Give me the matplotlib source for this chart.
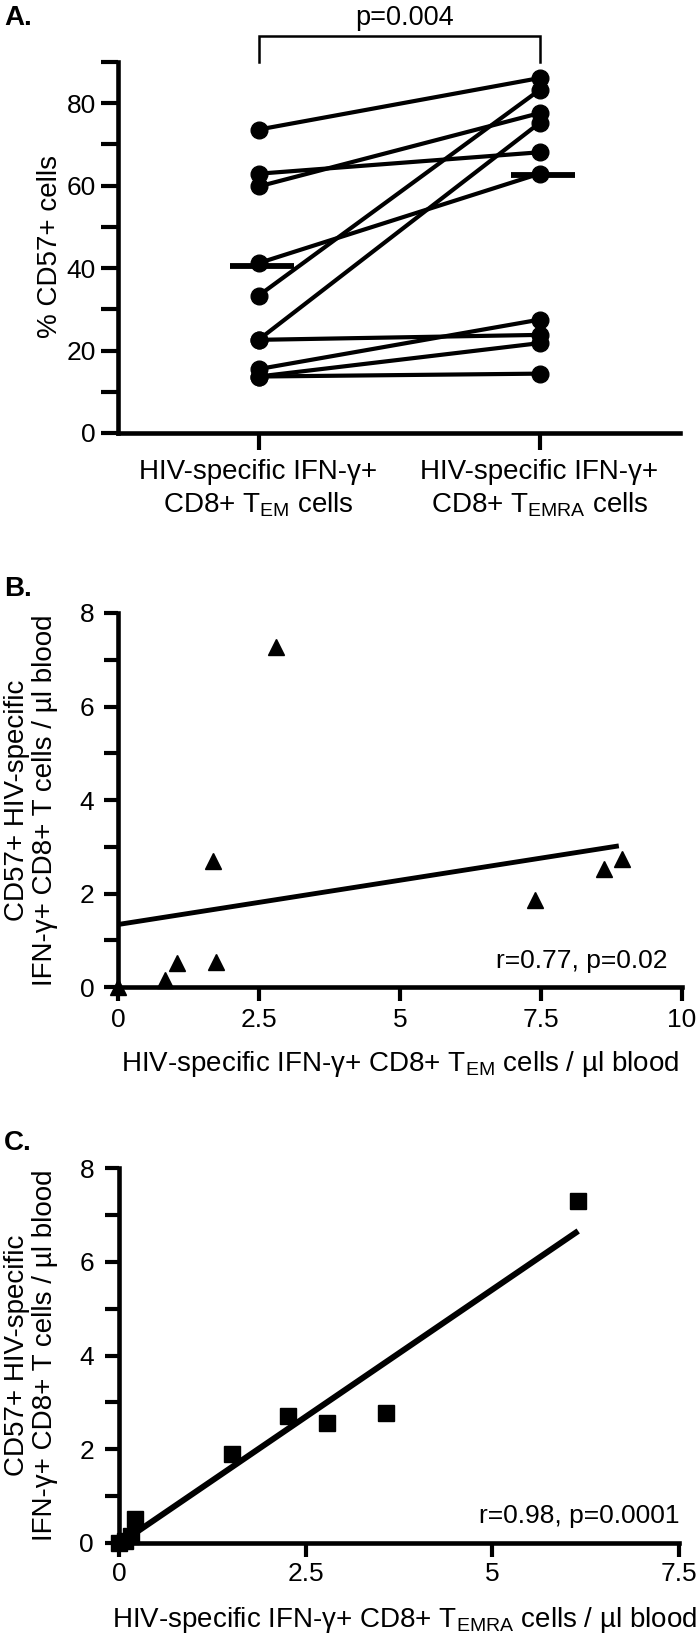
import numpy as np
import matplotlib
matplotlib.use('Agg')
import matplotlib.pyplot as plt
from matplotlib.ticker import FixedLocator

plt.rcParams['font.family'] = ['Liberation Sans', 'DejaVu Sans']
plt.rcParams['mathtext.fontset'] = 'custom'
plt.rcParams['mathtext.rm'] = 'Liberation Sans'
plt.rcParams['mathtext.it'] = 'Liberation Sans:italic'
plt.rcParams['mathtext.bf'] = 'Liberation Sans:bold'

# ---------------- data ----------------
# Panel A: paired % CD57+ (TEM vs TEMRA)
group_labels = ["HIV-specific IFN-γ+\nCD8+ T$_{\\mathrm{EM}}$ cells",
                "HIV-specific IFN-γ+\nCD8+ T$_{\\mathrm{EMRA}}$ cells"]
tem_pct = [73.6, 62.9, 59.8, 41.2, 33.3, 22.6, 22.6, 15.5, 13.7, 13.7]
temra_pct = [86.1, 68.1, 77.6, 62.9, 83.2, 75.2, 23.8, 27.5, 21.8, 14.4]
group_bars = [40.5, 62.5]
a_yticks = [0, 20, 40, 60, 80]
a_ylabel = "% CD57+ cells"
a_ptext = "p=0.004"

# Panel B: TEM counts vs CD57+ counts
b_x = [0.0, 0.84, 1.05, 1.73, 1.68, 2.81, 7.40, 8.61, 8.93]
b_y = [0.0, 0.14, 0.51, 0.53, 2.69, 7.28, 1.87, 2.53, 2.74]
b_xticks = [0, 2.5, 5, 7.5, 10]
b_xticklabels = ["0", "2.5", "5", "7.5", "10"]
b_xlabel = "HIV-specific IFN-γ+ CD8+ T$_{\\mathrm{EM}}$ cells / µl blood"
b_stat = "r=0.77, p=0.02"

# Panel C: TEMRA counts vs CD57+ counts
c_x = [0.0, 0.08, 0.16, 0.21, 1.51, 2.27, 2.78, 3.57, 6.15]
c_y = [0.0, 0.05, 0.14, 0.52, 1.90, 2.72, 2.56, 2.77, 7.30]
c_xticks = [0, 2.5, 5, 7.5]
c_xticklabels = ["0", "2.5", "5", "7.5"]
c_xlabel = "HIV-specific IFN-γ+ CD8+ T$_{\\mathrm{EMRA}}$ cells / µl blood"
c_stat = "r=0.98, p=0.0001"

bc_yticks = [0, 2, 4, 6, 8]
bc_ylabel = "CD57+ HIV-specific\nIFN-γ+ CD8+ T cells / µl blood"

# ---------------- figure ----------------
W, H = 700, 1639
fig = plt.figure(figsize=(W / 100, H / 100), dpi=100)


def px_axes(l, r, b, t):
    return fig.add_axes([l / W, 1 - b / H, (r - l) / W, (b - t) / H])


def style(ax, tick_len, ypad, xpad):
    for s in ['top', 'right']:
        ax.spines[s].set_visible(False)
    for s in ['left', 'bottom']:
        ax.spines[s].set_linewidth(3.3)
        ax.spines[s].set_capstyle('projecting')
    ax.tick_params(axis='both', which='both', direction='out', length=tick_len,
                   width=3.0, color='black', labelsize=19)
    ax.tick_params(axis='y', which='both', pad=ypad)
    ax.tick_params(axis='x', which='both', pad=xpad)


TXT = 20

# ---- Panel A ----
axA = px_axes(118, 680, 433, 62)
for a, b in zip(tem_pct, temra_pct):
    axA.plot([1, 2], [a, b], color='black', lw=3.0, marker='o', ms=12,
             solid_capstyle='round', clip_on=False, zorder=3)
for xi, v in zip([1, 2], group_bars):
    axA.plot([xi - 0.1, xi + 0.125], [v, v], color='black', lw=4.2,
             solid_capstyle='butt', zorder=4)
axA.set_xlim(0.5, 2.5)
axA.set_ylim(0, 90)
axA.set_xticks([1, 2])
axA.set_xticklabels(group_labels, fontsize=TXT, linespacing=1.25)
axA.set_yticks(a_yticks)
axA.yaxis.set_minor_locator(FixedLocator([10, 30, 50, 70, 90]))
style(axA, 12, 4, 7)
axA.tick_params(axis='x', labelsize=TXT)
# significance bracket
axA.plot([1, 1, 2, 2], [90.1, 96.2, 96.2, 90.1], color='black', lw=1.8,
         clip_on=False, solid_joinstyle='miter')
axA.text(1.52, 99.0, a_ptext, ha='center', va='baseline', fontsize=19.5,
         clip_on=False)
fig.text(50 / W, 1 - 247 / H, a_ylabel, rotation=90, ha='center', va='center',
         fontsize=TXT)
fig.text(4 / W, 1 - 25 / H, "A.", fontsize=20, fontweight='bold', va='baseline')

# ---- Panel B ----
axB = px_axes(118, 682, 987, 613)
axB.plot(b_x, b_y, linestyle='none', marker='^', ms=11.5, color='black',
         clip_on=False, zorder=3)
kb = np.polyfit(b_x, b_y, 1)
xb = np.array([0, max(b_x) - 0.05])
axB.plot(xb, np.polyval(kb, xb), color='black', lw=3.5, solid_capstyle='butt')
axB.set_xlim(0, 10)
axB.set_ylim(0, 8)
axB.set_xticks(b_xticks)
axB.set_xticklabels(b_xticklabels)
axB.set_yticks(bc_yticks)
axB.yaxis.set_minor_locator(FixedLocator([1, 3, 5, 7]))
style(axB, 10, 7, 5)
axB.text(9.75, 0.41, b_stat, ha='right', va='baseline', fontsize=19)
fig.text(400 / W, 1 - 1071 / H, b_xlabel, ha='center', va='baseline', fontsize=TXT)
fig.text(31 / W, 1 - 800 / H, bc_ylabel, rotation=90, ha='center', va='center',
         multialignment='center', fontsize=TXT, linespacing=1.12)
fig.text(4 / W, 1 - 596 / H, "B.", fontsize=20, fontweight='bold', va='baseline')

# ---- Panel C ----
axC = px_axes(119, 679, 1543, 1168)
axC.plot(c_x, c_y, linestyle='none', marker='s', ms=11, color='black',
         clip_on=False, zorder=3)
kc = np.polyfit(c_x, c_y, 1)
xc = np.array([0, max(c_x)])
axC.plot(xc, np.polyval(kc, xc), color='black', lw=4.3, solid_capstyle='butt')
axC.set_xlim(0, 7.5)
axC.set_ylim(0, 8)
axC.set_xticks(c_xticks)
axC.set_xticklabels(c_xticklabels)
axC.set_yticks(bc_yticks)
axC.yaxis.set_minor_locator(FixedLocator([1, 3, 5, 7]))
style(axC, 10, 8, 4)
axC.text(7.5, 0.42, c_stat, ha='right', va='baseline', fontsize=19)
fig.text(405 / W, 1 - 1627 / H, c_xlabel, ha='center', va='baseline', fontsize=TXT)
fig.text(31 / W, 1 - 1355 / H, bc_ylabel, rotation=90, ha='center', va='center',
         multialignment='center', fontsize=TXT, linespacing=1.12)
fig.text(4 / W, 1 - 1150 / H, "C.", fontsize=20, fontweight='bold', va='baseline')

fig.savefig('out.png', dpi=100)
